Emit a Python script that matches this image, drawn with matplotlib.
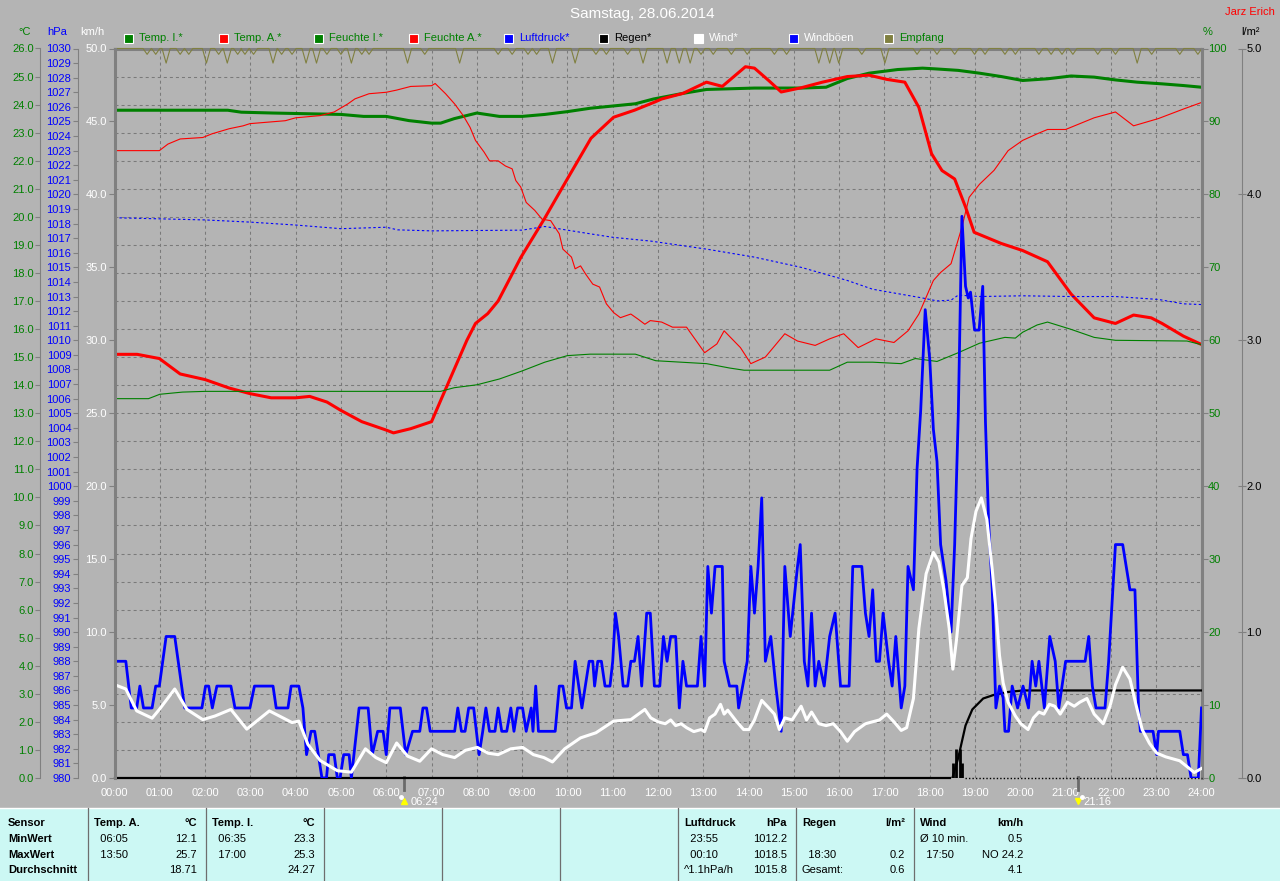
import matplotlib
matplotlib.use('Agg')
import matplotlib.pyplot as plt
import matplotlib.transforms as mtransforms
from matplotlib.patches import Rectangle
from matplotlib.lines import Line2D

plt.rcParams['font.family'] = ['Liberation Sans', 'DejaVu Sans']
plt.rcParams['font.size'] = 8

# ---------------- data ----------------
hours = list(range(25))
hour_labels = ['%02d:00' % h for h in hours]

# outside temperature (degC)
temp_a_t = [0, 0.5, 0.99, 1.45, 2.0, 2.53, 2.99, 3.46, 4.0, 4.31, 4.69, 5.0, 5.46, 6.0, 6.16,
            6.54, 7.0, 7.2, 7.51, 7.78, 7.97, 8.24, 8.47, 8.97, 9.48, 9.98, 10.52, 11.02, 11.48,
            11.94, 12.08, 12.55, 13.07, 13.42, 13.93, 14.13, 14.45, 14.72, 15.16, 15.63, 16.18,
            16.66, 17.05, 17.45, 17.76, 18.04, 18.27, 18.55, 18.79, 18.98, 19.58, 20.05, 20.6,
            21.12, 21.63, 22.1, 22.5, 22.89, 23.13, 23.6, 24.0]
temp_a_v = [15.1, 15.1, 14.95, 14.4, 14.2, 13.9, 13.7, 13.55, 13.55, 13.6, 13.4, 13.1, 12.7, 12.4,
            12.3, 12.45, 12.7, 13.45, 14.6, 15.6, 16.2, 16.55, 17.0, 18.55, 19.9, 21.3, 22.8, 23.55,
            23.8, 24.1, 24.2, 24.4, 24.8, 24.65, 25.35, 25.3, 24.85, 24.45, 24.6, 24.8, 25.0, 25.05,
            24.9, 24.8, 23.9, 22.25, 21.65, 21.35, 20.35, 19.45, 19.05, 18.8, 18.4, 17.25, 16.4,
            16.2, 16.5, 16.4, 16.2, 15.75, 15.45]

# inside temperature (degC)
temp_i_t = [0, 2.5, 2.8, 3.5, 5.0, 5.5, 6.0, 6.5, 7.0, 7.2, 7.5, 8.0, 8.5, 9.0, 9.5, 10.0, 10.5,
            11.0, 11.5, 11.9, 12.55, 13.07, 14.13, 15.16, 15.71, 16.18, 16.66, 17.29, 17.84, 18.16,
            18.63, 19.1, 19.58, 20.05, 20.6, 21.12, 21.63, 22.1, 22.58, 23.13, 23.6, 24.0]
temp_i_v = [23.8, 23.8, 23.73, 23.7, 23.65, 23.58, 23.58, 23.43, 23.34, 23.34, 23.5, 23.7, 23.58,
            23.58, 23.65, 23.75, 23.87, 23.95, 24.03, 24.2, 24.4, 24.54, 24.59, 24.59, 24.62, 24.93,
            25.12, 25.25, 25.3, 25.27, 25.22, 25.12, 25.0, 24.86, 24.92, 25.02, 24.98, 24.88, 24.8,
            24.74, 24.68, 24.62]

# outside humidity (%)
hum_a_t = [0, 0.99, 1.18, 1.45, 1.95, 2.15, 2.53, 2.84, 2.99, 3.38, 3.77, 4.0, 4.54, 4.85, 5.15,
           5.31, 5.62, 6.0, 6.23, 6.54, 7.0, 7.08, 7.31, 7.51, 7.70, 7.85, 7.97, 8.16, 8.28, 8.47,
           8.63, 8.78, 8.86, 8.97, 9.09, 9.28, 9.44, 9.63, 9.82, 9.90, 10.09, 10.17, 10.29, 10.40,
           10.56, 10.71, 10.86, 11.02, 11.17, 11.40, 11.56, 11.71, 11.83, 12.08, 12.32, 12.63,
           13.03, 13.3, 13.46, 13.82, 14.05, 14.37, 14.8, 15.08, 15.47, 15.79, 16.1, 16.42, 16.81,
           17.21, 17.52, 17.76, 18.08, 18.24, 18.47, 18.71, 18.87, 19.1, 19.42, 19.73, 20.05,
           20.37, 20.6, 21.0, 21.63, 22.1, 22.5, 23.05, 23.6, 24.0]
hum_a_v = [86.0, 86.0, 86.9, 87.6, 87.8, 88.3, 89.0, 89.4, 89.7, 89.9, 90.1, 90.5, 90.8, 91.3,
           92.4, 93.1, 93.8, 94.0, 94.3, 94.8, 94.9, 95.2, 93.8, 92.4, 90.8, 89.2, 87.4, 85.8, 84.6,
           84.6, 83.9, 83.5, 81.9, 81.0, 78.9, 77.8, 76.6, 76.4, 74.6, 72.5, 71.4, 69.8, 70.2, 69.1,
           67.7, 67.3, 65.0, 63.8, 63.1, 63.6, 62.9, 62.2, 62.7, 62.5, 61.8, 61.8, 58.3, 59.5, 61.3,
           59.0, 56.8, 57.7, 60.9, 59.9, 59.3, 60.2, 60.9, 59.0, 60.2, 59.7, 61.3, 63.6, 68.2, 69.3,
           70.5, 75.5, 79.6, 81.4, 83.3, 86.0, 87.4, 88.3, 88.9, 88.9, 90.5, 91.3, 89.4, 90.4,
           91.7, 92.6]

# inside humidity (%)
hum_i_t = [0, 0.75, 1.0, 1.5, 2.0, 7.2, 7.5, 8.0, 8.5, 9.0, 9.5, 10.0, 10.5, 11.5, 11.95, 13.07,
           13.58, 13.9, 15.79, 16.18, 16.74, 17.37, 17.68, 18.16, 18.63, 19.1, 19.66, 19.89, 20.05,
           20.37, 20.6, 21.12, 21.63, 22.1, 23.68, 24.0]
hum_i_v = [52.0, 52.0, 52.6, 52.9, 53.0, 53.0, 53.5, 53.9, 54.7, 55.8, 57.0, 57.9, 58.1, 58.1,
           57.2, 56.8, 56.2, 55.9, 55.9, 57.0, 57.0, 56.8, 57.5, 57.1, 58.3, 59.6, 60.4, 60.3, 61.1,
           62.1, 62.5, 61.5, 60.4, 60.0, 59.9, 59.4]

# air pressure (hPa)
press_t = [0, 2, 3, 4, 5, 6, 6.25, 7, 9, 9.5, 10, 10.5, 11, 11.84, 13.07, 14.13, 15.16, 16.18,
           16.74, 17.29, 17.84, 18.16, 18.47, 18.63, 19.1, 20.05, 21.12, 22.1, 23.05, 23.6, 24]
press_v = [1018.4, 1018.25, 1018.1, 1017.9, 1017.65, 1017.75, 1017.57, 1017.5, 1017.55, 1017.8,
           1017.55, 1017.3, 1017.06, 1016.8, 1016.25, 1015.7, 1015.0, 1014.1, 1013.5, 1013.2,
           1012.9, 1012.7, 1012.75, 1013.1, 1013.0, 1013.05, 1013.0, 1013.0, 1012.8, 1012.5,
           1012.45]

# mean wind (km/h)
wind_t = [0, 0.25, 0.49, 0.83, 0.99, 1.33, 1.6, 1.95, 2.22, 2.57, 2.92, 3.42, 3.92, 4.07, 4.27,
          4.54, 4.92, 5.23, 5.54, 5.77, 6.0, 6.23, 6.47, 6.74, 7.0, 7.25, 7.51, 7.75, 8.01, 8.25,
          8.47, 8.75, 9.01, 9.25, 9.48, 9.67, 9.94, 10.29, 10.63, 11.02, 11.4, 11.71, 11.84, 12.0,
          12.16, 12.28, 12.39, 12.51, 12.63, 12.79, 12.95, 13.03, 13.14, 13.26, 13.38, 13.46,
          13.54, 13.74, 13.89, 14.01, 14.13, 14.29, 14.45, 14.57, 14.68, 14.8, 14.96, 15.16,
          15.28, 15.39, 15.55, 15.71, 15.87, 16.03, 16.18, 16.34, 16.58, 16.89, 17.05, 17.21,
          17.37, 17.49, 17.64, 17.76, 17.92, 18.08, 18.2, 18.31, 18.43, 18.51, 18.59, 18.71,
          18.83, 18.91, 19.02, 19.14, 19.26, 19.38, 19.46, 19.54, 19.62, 19.73, 19.89, 20.01,
          20.17, 20.29, 20.41, 20.52, 20.64, 20.76, 20.88, 21.04, 21.19, 21.31, 21.47, 21.63,
          21.83, 21.98, 22.1, 22.26, 22.42, 22.54, 22.69, 22.85, 23.01, 23.21, 23.37, 23.52,
          23.68, 23.84, 24.0]
wind_v = [6.4, 6.1, 4.6, 4.1, 4.7, 6.1, 4.7, 4.0, 4.25, 4.7, 3.35, 4.6, 3.8, 3.9, 2.3, 1.2, 0.5,
          0.4, 2.0, 1.4, 1.05, 2.4, 1.5, 1.15, 2.0, 1.6, 1.4, 1.9, 2.1, 1.7, 1.6, 2.0, 2.1, 1.6, 1.4,
          1.1, 2.0, 2.75, 3.1, 3.9, 4.0, 4.7, 4.12, 3.85, 3.72, 3.98, 3.59, 3.72, 3.45, 3.18, 3.32,
          3.18, 4.12, 4.38, 5.05, 4.38, 4.65, 3.85, 3.32, 3.32, 3.98, 5.32, 4.79, 4.38, 3.32, 4.12,
          3.98, 4.92, 3.98, 4.52, 3.72, 3.59, 3.72, 3.18, 2.52, 3.18, 3.72, 3.98, 4.38, 3.85, 3.26,
          3.45, 5.45, 10.25, 14.0, 15.46, 14.8, 12.92, 10.25, 7.46, 9.46, 13.19, 13.73, 16.39,
          18.27, 19.2, 17.73, 14.26, 11.59, 8.39, 6.52, 5.19, 4.25, 3.72, 3.32, 4.12, 4.52, 4.38,
          5.05, 4.92, 4.38, 5.19, 4.92, 5.19, 5.45, 4.38, 3.72, 4.92, 6.39, 7.59, 6.78, 5.19, 3.32,
          2.38, 1.71, 1.45, 1.31, 1.18, 0.78, 0.38, 0.65]

# gusts (km/h)
gust_t = [0, 0.25, 0.37, 0.49, 0.56, 0.64, 0.83, 0.91, 0.99, 1.14, 1.33, 1.55, 1.93, 2.01, 2.08,
          2.16, 2.26, 2.57, 2.66, 2.99, 3.09, 3.50, 3.57, 3.83, 3.90, 4.07, 4.16, 4.24, 4.34, 4.42,
          4.50, 4.58, 4.68, 4.73, 4.85, 4.92, 4.98, 5.06, 5.18, 5.23, 5.40, 5.60, 5.69, 5.81, 5.93,
          6.0, 6.08, 6.31, 6.43, 6.58, 6.74, 6.81, 6.89, 6.97, 7.51, 7.58, 7.66, 7.74, 7.82, 7.93,
          8.05, 8.13, 8.20, 8.28, 8.40, 8.47, 8.55, 8.66, 8.75, 8.82, 8.90, 9.01, 9.09, 9.20, 9.24,
          9.30, 9.36, 9.73, 9.82, 9.90, 9.98, 10.09, 10.17, 10.25, 10.32, 10.48, 10.56, 10.60,
          10.67, 10.75, 10.83, 10.94, 11.0, 11.06, 11.13, 11.23, 11.33, 11.40, 11.48, 11.56,
          11.64, 11.75, 11.83, 11.92, 12.04, 12.12, 12.2, 12.28, 12.39, 12.47, 12.55, 12.63,
          12.87, 12.95, 13.03, 13.1, 13.18, 13.26, 13.42, 13.46, 13.58, 13.74, 13.78, 13.97,
          14.05, 14.13, 14.21, 14.29, 14.37, 14.49, 14.6, 14.72, 14.8, 14.92, 15.08, 15.14, 15.23,
          15.31, 15.39, 15.47, 15.55, 15.67, 15.79, 15.91, 16.03, 16.22, 16.3, 16.5, 16.58, 16.66,
          16.74, 16.82, 16.89, 16.97, 17.09, 17.17, 17.25, 17.37, 17.45, 17.52, 17.64, 17.72,
          17.8, 17.9, 18.0, 18.08, 18.16, 18.24, 18.36, 18.47, 18.55, 18.63, 18.71, 18.79, 18.85,
          18.9, 18.99, 19.09, 19.17, 19.23, 19.3, 19.38, 19.46, 19.54, 19.62, 19.66, 19.74, 19.82,
          19.94, 20.06, 20.18, 20.26, 20.34, 20.41, 20.53, 20.65, 20.77, 20.85, 21.0, 21.43, 21.51,
          21.59, 21.67, 21.87, 21.95, 22.1, 22.26, 22.42, 22.53, 22.61, 22.65, 22.93, 23.01, 23.05,
          23.52, 23.6, 23.69, 23.77, 23.93, 24.0]
gust_v = [8.0, 8.0, 4.8, 4.8, 6.3, 4.8, 4.8, 6.3, 6.3, 9.7, 9.7, 4.8, 4.8, 6.3, 6.3, 4.8, 6.3, 6.3,
          4.8, 4.8, 6.3, 6.3, 4.8, 4.8, 6.3, 6.3, 4.8, 1.6, 3.2, 3.2, 1.6, 0.0, 0.0, 1.6, 1.6, 0.0,
          0.0, 1.6, 1.6, 0.0, 4.8, 4.8, 1.6, 3.2, 3.2, 1.6, 4.8, 4.8, 1.6, 3.2, 3.2, 4.8, 4.8, 3.2,
          3.2, 4.8, 3.2, 3.2, 4.8, 4.8, 1.6, 3.2, 4.8, 3.2, 3.2, 4.8, 3.2, 3.2, 4.8, 3.2, 4.8, 4.8,
          3.2, 4.8, 3.2, 6.3, 3.2, 3.2, 6.3, 6.3, 4.8, 4.8, 8.0, 6.3, 4.8, 8.0, 8.0, 6.3, 8.0, 8.0,
          6.3, 6.3, 8.0, 11.3, 9.7, 6.3, 6.3, 8.0, 8.0, 9.7, 6.3, 11.3, 11.3, 6.3, 6.3, 9.7, 8.0,
          9.7, 9.7, 4.8, 8.0, 6.3, 6.3, 9.7, 6.3, 14.5, 11.3, 14.5, 14.5, 8.0, 6.3, 6.3, 4.8, 8.0,
          14.5, 11.3, 14.5, 19.2, 8.0, 9.7, 6.3, 3.2, 14.5, 9.7, 14.5, 16.0, 8.0, 6.3, 11.3, 6.3,
          8.0, 6.3, 9.7, 11.3, 6.3, 6.3, 14.5, 14.5, 11.3, 9.7, 12.9, 8.0, 8.0, 11.3, 8.0, 6.3, 9.7,
          4.8, 6.3, 14.5, 12.9, 21.2, 25.2, 32.1, 28.7, 23.9, 21.7, 16.0, 13.5, 10.0, 16.0, 24.9,
          38.5, 33.7, 32.9, 33.3, 30.7, 30.7, 33.7, 24.4, 17.5, 12.9, 4.8, 6.3, 5.5, 3.2, 3.2, 6.3,
          4.8, 6.3, 4.8, 8.0, 6.3, 8.0, 4.8, 9.7, 8.0, 4.8, 8.0, 8.0, 9.7, 6.3, 4.8, 4.8, 8.0, 16.0,
          16.0, 12.9, 12.9, 4.8, 3.2, 3.2, 1.6, 3.2, 3.2, 1.6, 1.6, 0.0, 0.0, 4.8]

# rain (l/m2): cumulative curve, 5 min amounts, zero line
rain_t = [18.5, 18.63, 18.79, 18.94, 19.18, 19.42, 19.74, 20.06, 24.0]
rain_v = [0.0, 0.14, 0.36, 0.47, 0.545, 0.57, 0.59, 0.6, 0.6]
rain_bar_t = [18.51, 18.58, 18.66, 18.72]
rain_bar_v = [0.1, 0.2, 0.2, 0.1]
rain_zero_t = [0.0, 18.45]
rain_dot_t = [18.77, 24.0]

# reception (%): baseline 100 with dips
emp_dip_t = [0.72, 0.91, 1.14, 1.45, 1.64, 2.03, 2.30, 2.49, 2.72, 2.88, 3.07, 3.50, 3.69, 3.92,
             4.23, 4.46, 4.69, 5.0, 5.23, 5.46, 5.62, 6.47, 6.85, 7.62, 8.47, 8.78, 9.13, 9.32,
             9.67, 10.17, 10.63, 10.86, 11.33, 11.67, 12.2, 12.47, 12.71, 12.95, 13.22, 13.62,
             13.97, 14.57, 14.84, 15.55, 15.79, 15.99, 16.5, 17.01, 17.72, 18.16, 18.55, 18.99,
             19.22, 19.66, 19.89, 20.41, 20.68, 20.92, 21.16, 21.71, 22.1, 22.58, 22.9, 23.52, 23.92]
emp_dip_v = [99.2, 99.2, 98.0, 99.2, 99.2, 98.0, 99.2, 98.0, 99.2, 99.2, 99.2, 98.0, 99.2, 99.2,
             98.0, 98.0, 99.2, 99.2, 98.0, 99.2, 99.2, 98.0, 99.2, 98.0, 99.2, 99.2, 99.2, 99.2,
             98.0, 98.0, 99.2, 99.2, 99.2, 98.0, 98.0, 98.0, 98.0, 99.2, 99.2, 99.2,
             99.2, 99.2, 99.2, 98.0, 98.0, 98.0, 99.2, 98.0, 99.2, 99.2, 99.2, 99.2,
             99.2, 99.2, 99.2, 99.2, 99.2, 99.2, 99.2, 99.2, 99.2, 98.0, 99.2, 99.2, 99.2]

sunrise = 6 + 24 / 60
sunset = 21 + 16 / 60

legend_names = ['Temp. I.*', 'Temp. A.*', 'Feuchte I.*', 'Feuchte A.*', 'Luftdruck*', 'Regen*',
                'Wind*', 'Windböen', 'Empfang']
legend_fill = ['#008000', '#ff0000', '#008000', '#ff0000', '#0000ff', '#000000', '#ffffff',
               '#0000ff', '#808040']
legend_text = ['#008000', '#008000', '#008000', '#008000', '#0000ff', '#000000', '#ffffff',
               '#ffffff', '#008000']

row_labels = ['Sensor', 'MinWert', 'MaxWert', 'Durchschnitt']
temp_a_rows = [('  06:05', '12.1'), ('  13:50', '25.7'), ('', '18.71')]
temp_i_rows = [('  06:35', '23.3'), ('  17:00', '25.3'), ('', '24.27')]
luft_rows = [('  23:55', '1012.2'), ('  00:10', '1018.5'), ('^1.1hPa/h', '1015.8')]
regen_rows = [('', ''), ('  18:30', '0.2'), ('Gesamt:', '0.6')]
wind_rows = [('Ø 10 min.', '0.5'), ('  17:50', 'NO 24.2'), ('', '4.1')]

# ---------------- figure ----------------
W, H = 1280, 881
BG = '#b4b4b4'
AXC = '#808080'
GREEN = '#008000'
RED = '#ff0000'
BLUE = '#0000ff'


def fx(x):
    return x / W


def fy(y):
    return 1 - y / H


fig = plt.figure(figsize=(W / 100, H / 100), dpi=100, facecolor=BG)

x0, x1, ytop, ybot = 114.5, 1201.5, 48.5, 778
pw = x1 - x0
rect = [fx(x0), fy(ybot), pw / W, (ybot - ytop) / H]

ax_t = fig.add_axes(rect)
ax_t.set_facecolor(BG)
ax_t.set_xlim(0, 24)
ax_t.set_ylim(0, 26)
ax_p = ax_t.twinx()
ax_h = ax_t.twinx()
ax_r = ax_t.twinx()
ax_w = ax_t.twinx()


def one_spine(ax, side, pos, lw=0.8):
    for s in ax.spines.values():
        s.set_visible(False)
    sp = ax.spines[side]
    sp.set_visible(True)
    sp.set_position(('axes', pos))
    sp.set_color(AXC)
    sp.set_linewidth(lw)


# degC axis
one_spine(ax_t, 'left', -(x0 - 40) / pw)
ax_t.spines['top'].set_visible(True)
ax_t.spines['top'].set_color(AXC)
ax_t.spines['top'].set_linewidth(2.2)
ax_t.set_yticks(range(27))
ax_t.set_yticklabels(['%.1f' % v for v in range(27)])
ax_t.tick_params(axis='y', color=AXC, labelcolor=GREEN, length=3.6, width=0.8, pad=1)
ax_t.set_xticks(hours)
ax_t.set_xticklabels(hour_labels, color='white')
ax_t.tick_params(axis='x', length=0, pad=7)
ax_t.grid(True, color='#7a7a7a', linestyle=(0, (2.9, 2.9)), linewidth=0.75)

# hPa axis
ax_p.yaxis.tick_left()
one_spine(ax_p, 'left', -(x0 - 77.7) / pw)
ax_p.set_ylim(980, 1030)
ax_p.set_yticks(range(980, 1031))
ax_p.tick_params(axis='y', color=AXC, labelcolor=BLUE, length=3.6, width=0.8, pad=1)

# % axis
one_spine(ax_h, 'right', 1.0, lw=2.2)
ax_h.set_ylim(0, 100)
ax_h.set_yticks(range(0, 101, 10))
ax_h.tick_params(axis='y', color=AXC, labelcolor=GREEN, length=4.3, width=0.8, pad=0.5)

# l/m2 axis
one_spine(ax_r, 'right', 1 + (1241.7 - x1) / pw)
ax_r.set_ylim(0, 5)
ax_r.set_yticks(range(6))
ax_r.set_yticklabels(['%.1f' % v for v in range(6)])
ax_r.tick_params(axis='y', color=AXC, labelcolor='black', direction='inout', length=6,
                 width=0.8, pad=0.5)

# km/h axis
ax_w.yaxis.tick_left()
one_spine(ax_w, 'left', 0.0, lw=2.2)
ax_w.set_ylim(0, 50)
ax_w.set_yticks(range(0, 51, 5))
ax_w.set_yticklabels(['%.1f' % v for v in range(0, 51, 5)])
ax_w.tick_params(axis='y', color=AXC, labelcolor='white', length=4.5, width=0.8, pad=1)

# ---- series ----
ax_t.plot(temp_i_t, temp_i_v, color=GREEN, lw=2.2)
ax_t.plot(temp_a_t, temp_a_v, color=RED, lw=2.2)

ax_p.plot(press_t, press_v, color=BLUE, lw=0.8, linestyle=(0, (2.2, 2.2)))

emp_t, emp_v = [0.0], [100.0]
for t, v in zip(emp_dip_t, emp_dip_v):
    emp_t += [t - 0.09, t, t + 0.09]
    emp_v += [100.0, v, 100.0]
emp_t.append(24.0)
emp_v.append(100.0)
ax_h.plot(emp_t, emp_v, color='#808040', lw=0.8, clip_on=False)
ax_h.plot(hum_i_t, hum_i_v, color=GREEN, lw=0.8)
ax_h.plot(hum_a_t, hum_a_v, color=RED, lw=0.8)

ax_r.plot(rain_zero_t, [0, 0], color='black', lw=1.6, clip_on=False)
ax_r.plot(rain_dot_t, [0, 0], color='black', lw=1.0, linestyle=(0, (1, 1.5)), clip_on=False)
ax_r.vlines(rain_bar_t, 0, rain_bar_v, color='black', lw=2.0)
ax_r.plot(rain_t, rain_v, color='black', lw=1.6)

ax_w.plot(gust_t, gust_v, color=BLUE, lw=2.0)
ax_w.plot(wind_t, wind_v, color='white', lw=2.2)

# sunrise / sunset markers under the time axis
blend = mtransforms.blended_transform_factory(ax_t.transData, fig.transFigure)
for hh, lab, mk in [(sunrise, '06:24', '^'), (sunset, '21:16', 'v')]:
    ax_t.plot([hh, hh], [fy(777), fy(790)], color='#6a6a6a', lw=2, transform=blend,
              clip_on=False)
    ax_t.plot([hh], [fy(801)], marker=mk, color='#ffff00', markersize=5, transform=blend,
              clip_on=False)
    ax_t.plot([hh], [fy(797)], marker='o', color='white', markersize=2.5,
              transform=mtransforms.offset_copy(blend, fig, x=-3 if mk == '^' else 4,
                                                units='dots'),
              clip_on=False)
    ax_t.text(hh, fy(802), lab, color='white', va='center', ha='left', fontsize=8,
              transform=mtransforms.offset_copy(blend, fig, x=6, units='dots'))

# ---- header ----
fig.text(fx(642), fy(14), 'Samstag, 28.06.2014', color='white', ha='center', va='center',
         fontsize=11)
fig.text(fx(1250), fy(12), 'Jarz Erich', color=RED, ha='center', va='center', fontsize=8)
for x, lab, c in [(25, '°C', GREEN), (57.5, 'hPa', BLUE), (92, 'km/h', 'white'),
                  (1208, '%', GREEN), (1250, 'l/m²', 'black')]:
    fig.text(fx(x), fy(32), lab, color=c, ha='center', va='center', fontsize=8)

for i, (name, fc, tc) in enumerate(zip(legend_names, legend_fill, legend_text)):
    lx = 124 + 95 * i
    fig.patches.append(Rectangle((fx(lx), fy(43)), 9 / W, 9 / H, facecolor=fc,
                                 edgecolor='white', lw=0.8, transform=fig.transFigure))
    fig.text(fx(lx + 15), fy(38), name, color=tc, ha='left', va='center', fontsize=8)

# ---- statistics table ----
fig.patches.append(Rectangle((0, 0), 1, fy(808), facecolor='#ccf8f4', edgecolor='none',
                             transform=fig.transFigure, zorder=0))
fig.lines.append(Line2D([0, 1], [fy(808), fy(808)], color='white', lw=1,
                        transform=fig.transFigure))
for sx in [88, 206, 324, 442, 560, 678, 796, 914]:
    fig.lines.append(Line2D([fx(sx), fx(sx)], [fy(808), 0], color='#6e6e6e', lw=0.9,
                            transform=fig.transFigure))

row_y = [822.7, 839, 854.7, 870.3]
for ry, lab in zip(row_y, row_labels):
    fig.text(fx(8), fy(ry), lab, ha='left', va='center', fontsize=8, fontweight='bold')

blocks = [(88, 'Temp. A.', '°C', temp_a_rows), (206, 'Temp. I.', '°C', temp_i_rows),
          (678, 'Luftdruck', 'hPa', luft_rows), (796, 'Regen', 'l/m²', regen_rows),
          (914, 'Wind', 'km/h', wind_rows)]
for bx, title, unit, rows in blocks:
    fig.text(fx(bx + 6), fy(row_y[0]), title, ha='left', va='center', fontsize=8,
             fontweight='bold')
    fig.text(fx(bx + 109), fy(row_y[0]), unit, ha='right', va='center', fontsize=8,
             fontweight='bold')
    for ry, (left, right) in zip(row_y[1:], rows):
        fig.text(fx(bx + 6), fy(ry), left, ha='left', va='center', fontsize=8)
        fig.text(fx(bx + 109), fy(ry), right, ha='right', va='center', fontsize=8)

fig.savefig('out.png', dpi=100, facecolor=BG)
